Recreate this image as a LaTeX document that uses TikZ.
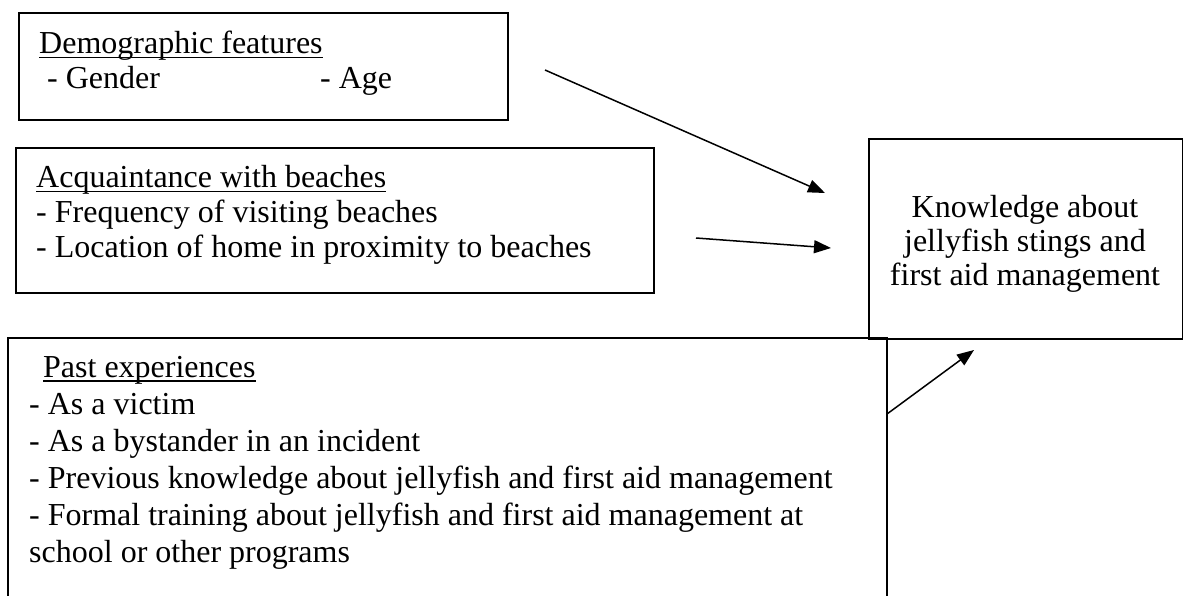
\documentclass[tikz,border=0pt]{standalone}
\usepackage{fontspec}
\setmainfont{Liberation Serif}
\usetikzlibrary{arrows.meta}
\newcommand\myul[1]{\setbox0\hbox{#1}\rlap{\rule[-4.5pt]{\wd0}{1.6pt}}\box0}
\begin{document}
\begin{tikzpicture}[x=1pt,y=-1pt,
  frame/.style={draw, line width=1.8pt, inner sep=0pt, anchor=north west},
  txt/.style={inner sep=0pt, anchor=base west, font=\fontsize{32}{35}\selectfont},
  link/.style={line width=1.5pt, -{Triangle[length=17pt,width=13pt]}}]
\useasboundingbox (0,0) rectangle (1183,596);
\clip (0,0) rectangle (1183,596);
% boxes
\node[frame, minimum width=489pt, minimum height=107pt] (demo) at (18,12) {};
\node[frame, minimum width=638pt, minimum height=145pt] (acq) at (15,147) {};
\node[frame, minimum width=314pt, minimum height=200pt] (know) at (868,138) {};
\node[frame, minimum width=879pt, minimum height=300pt] (past) at (7,337) {};
% texts
\node[txt] (demotxt) at (39,54) {\vtop{\hbox{\myul{Demographic features}}\hbox{\kern8pt\hbox to 273pt{- Gender\hfil}- Age}}};
\node[txt] (acqtxt) at (36,188) {\vtop{\hbox{\myul{Acquaintance with beaches}}\hbox{- Frequency of visiting beaches}\hbox{- Location of home in proximity to beaches}}};
\node[txt, font=\fontsize{32}{37}\selectfont] (pasttxt) at (29,377) {\vtop{\hbox{\kern14pt\myul{Past experiences}}\hbox{- As a victim}\hbox{- As a bystander in an incident}\hbox{- Previous knowledge about jellyfish and first aid management}\hbox{- Formal training about jellyfish and first aid management at}\hbox{school or other programs}}};
\node[txt, anchor=base, font=\fontsize{32}{34}\selectfont] (knowtxt) at (1025,218) {\vtop{\halign{\hfil#\hfil\cr Knowledge about\cr jellyfish stings and\cr first aid management\cr}}};
% arrows
\coordinate (a1s) at (545,70);
\coordinate (a1e) at (825,193);
\coordinate (a2s) at (696,238);
\coordinate (a2e) at (831,248);
\coordinate (a3s) at (887,414);
\coordinate (a3e) at (974,350);
\draw[link] (a1s) -- (a1e);
\draw[link] (a2s) -- (a2e);
\draw[link] (a3s) -- (a3e);
\end{tikzpicture}
\end{document}
